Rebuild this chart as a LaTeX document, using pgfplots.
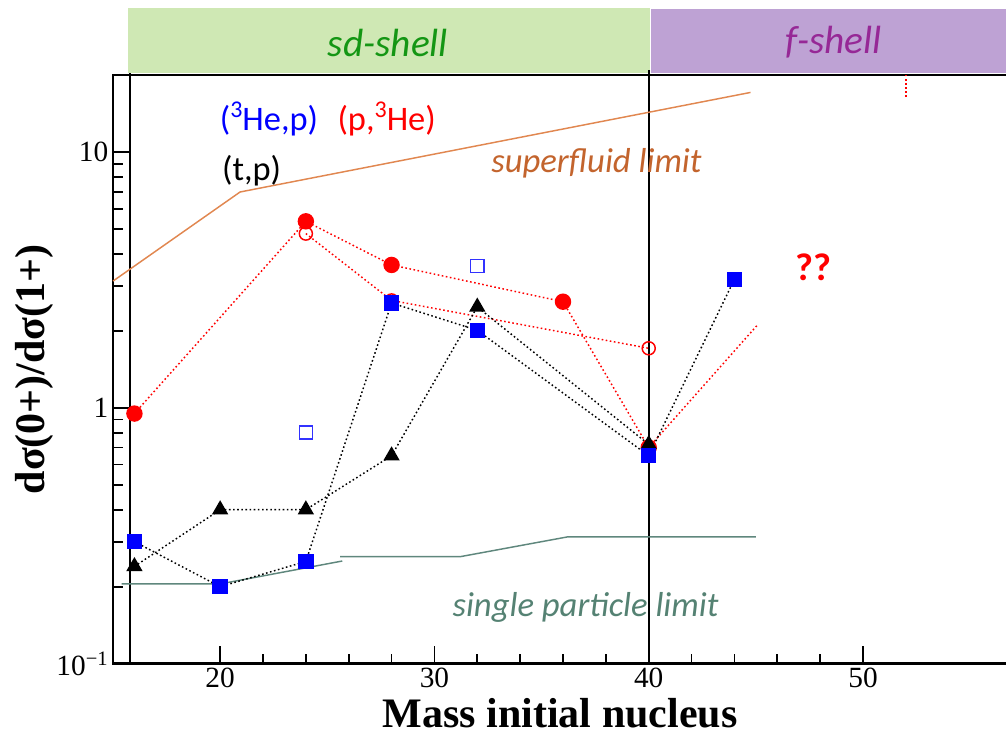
\documentclass[border=0pt]{standalone}
\usepackage{pgfplots}
\pgfplotsset{compat=1.18}
\usepackage{fontspec}
\setmainfont{Liberation Serif}
\newfontfamily\calfont{Carlito}
\definecolor{sfline}{RGB}{225,135,80}
\definecolor{sftext}{RGB}{195,100,45}
\definecolor{spline}{RGB}{95,135,125}
\definecolor{sptext}{RGB}{85,130,115}
\definecolor{greenband}{RGB}{207,232,180}
\definecolor{greentext}{RGB}{20,150,20}
\definecolor{purpleband}{RGB}{190,162,212}
\definecolor{purpletext}{RGB}{150,40,150}
\definecolor{openblue}{RGB}{50,50,255}
\tikzset{dotl/.style={dash pattern=on 1.2pt off 1.9pt, line width=1.1pt}}
\newcommand{\sth}{\raisebox{0.38em}{\fontsize{18}{18}\selectfont 3}}
\begin{document}
\begin{tikzpicture}
\begin{axis}[
  scale only axis, width=675pt, height=441.5pt,
  xmin=15, xmax=57, ymode=log, ymin=0.1, ymax=20,
  xtick={20,30,40,50}, minor x tick num=4,
  ytick={0.1,1,10}, yticklabels={10\textsuperscript{−1},1,10},
  tick align=inside, xtick pos=left, ytick pos=left,
  major tick length=13.5pt, minor tick length=7.5pt,
  tick style={black, line width=1.3pt},
  axis line style={line width=2pt},
  /pgf/number format/assume math mode=true,
  tick label style={font=\fontsize{22}{22}\selectfont},
  clip=false,
  xlabel={\textbf{Mass initial nucleus}},
  ylabel={\textbf{dσ(0+)/dσ(1+)}},
  xlabel style={font=\fontsize{31.5}{31.5}\selectfont, at={(axis description cs:0.4967,-0.1090)}, anchor=base},
  ylabel style={font=\fontsize{31.5}{31.5}\selectfont, at={(axis description cs:-0.0756,0.5)}, anchor=base, rotate=0},
]
% bands
\fill[greenband] (axis cs:15.7,20.3) rectangle (axis cs:40.05,36.7);
\fill[purpleband] (axis cs:40.1,20.3) rectangle (axis cs:58,36.2);
\node[font=\calfont\itshape\fontsize{29.5}{29.5}\selectfont, text=greentext] at (axis cs:27.83,26.8) {sd-shell};
\node[font=\calfont\itshape\fontsize{29.5}{29.5}\selectfont, text=purpletext] at (axis cs:48.64,26.8) {f-shell};
% vertical guide lines
\addplot[black, line width=1.3pt] coordinates {(15.8,0.1) (15.8,20.3)};
\addplot[black, line width=1.3pt] coordinates {(40,0.1) (40,21)};
% limits
\addplot[sfline, line width=1.1pt] coordinates {(15.0,3.13) (20.93,6.98) (44.75,17.1)};
\addplot[spline, line width=1.1pt] coordinates {(15.4,0.205) (20,0.205) (25.7,0.252)};
\addplot[spline, line width=1.1pt] coordinates {(25.6,0.262) (31.2,0.262) (36.2,0.313) (45,0.313)};
% (p,3He) filled
\addplot[red, dotl, mark=*, mark size=5.6pt, mark options={solid, fill=red, draw=red}] coordinates {(16,0.95) (24,5.36) (28,3.62) (36,2.6) (40,0.70)};
\addplot[red, dotl] coordinates {(40,0.70) (45.1,2.12)};
\addplot[red, dotl] coordinates {(52,16.4) (52,20)};
% (p,3He) open
\addplot[red, dotl, mark=o, mark size=4.9pt, mark options={solid, line width=1.1pt, draw=red}] coordinates {(24,4.8) (28,2.63) (40,1.71)};
% (t,p) triangles
\addplot[black, dotl, mark=triangle*, mark size=6pt, mark options={solid, fill=black}] coordinates {(16,0.24) (20,0.40) (24,0.40) (28,0.65) (32,2.48) (40,0.72)};
% (3He,p) open squares
\addplot[only marks, mark=square, mark size=4.9pt, mark options={solid, line width=1.1pt, draw=openblue}] coordinates {(24,0.80) (32,3.59)};
% (3He,p) filled squares
\addplot[black, dotl, mark=square*, mark size=5.25pt, mark options={solid, fill=blue, draw=blue}] coordinates {(16,0.30) (20,0.20) (24,0.251) (28,2.57) (32,2.01) (40,0.65) (44,3.18)};
% labels
\node[font=\calfont\fontsize{25.8}{25.8}\selectfont, text=blue] at (axis cs:22.28,13.42) {(\sth He,p)};
\node[font=\calfont\fontsize{25.8}{25.8}\selectfont, text=red] at (axis cs:27.77,13.42) {(p,\sth He)};
\node[font=\calfont\fontsize{25.8}{25.8}\selectfont, text=black] at (axis cs:21.47,8.48) {(t,p)};
\node[font=\calfont\itshape\fontsize{26}{26}\selectfont, text=sftext] at (axis cs:37.56,9.04) {superfluid limit};
\node[font=\calfont\itshape\fontsize{26}{26}\selectfont, text=sptext] at (axis cs:37.05,0.1665) {single particle limit};
\node[font=\calfont\bfseries\fontsize{29}{29}\selectfont, text=red] at (axis cs:47.67,3.545) {??};
\end{axis}
\pgfresetboundingbox
\path (-84.75pt,-54.225pt) rectangle (669.75pt,497.775pt);
\end{tikzpicture}
\end{document}
